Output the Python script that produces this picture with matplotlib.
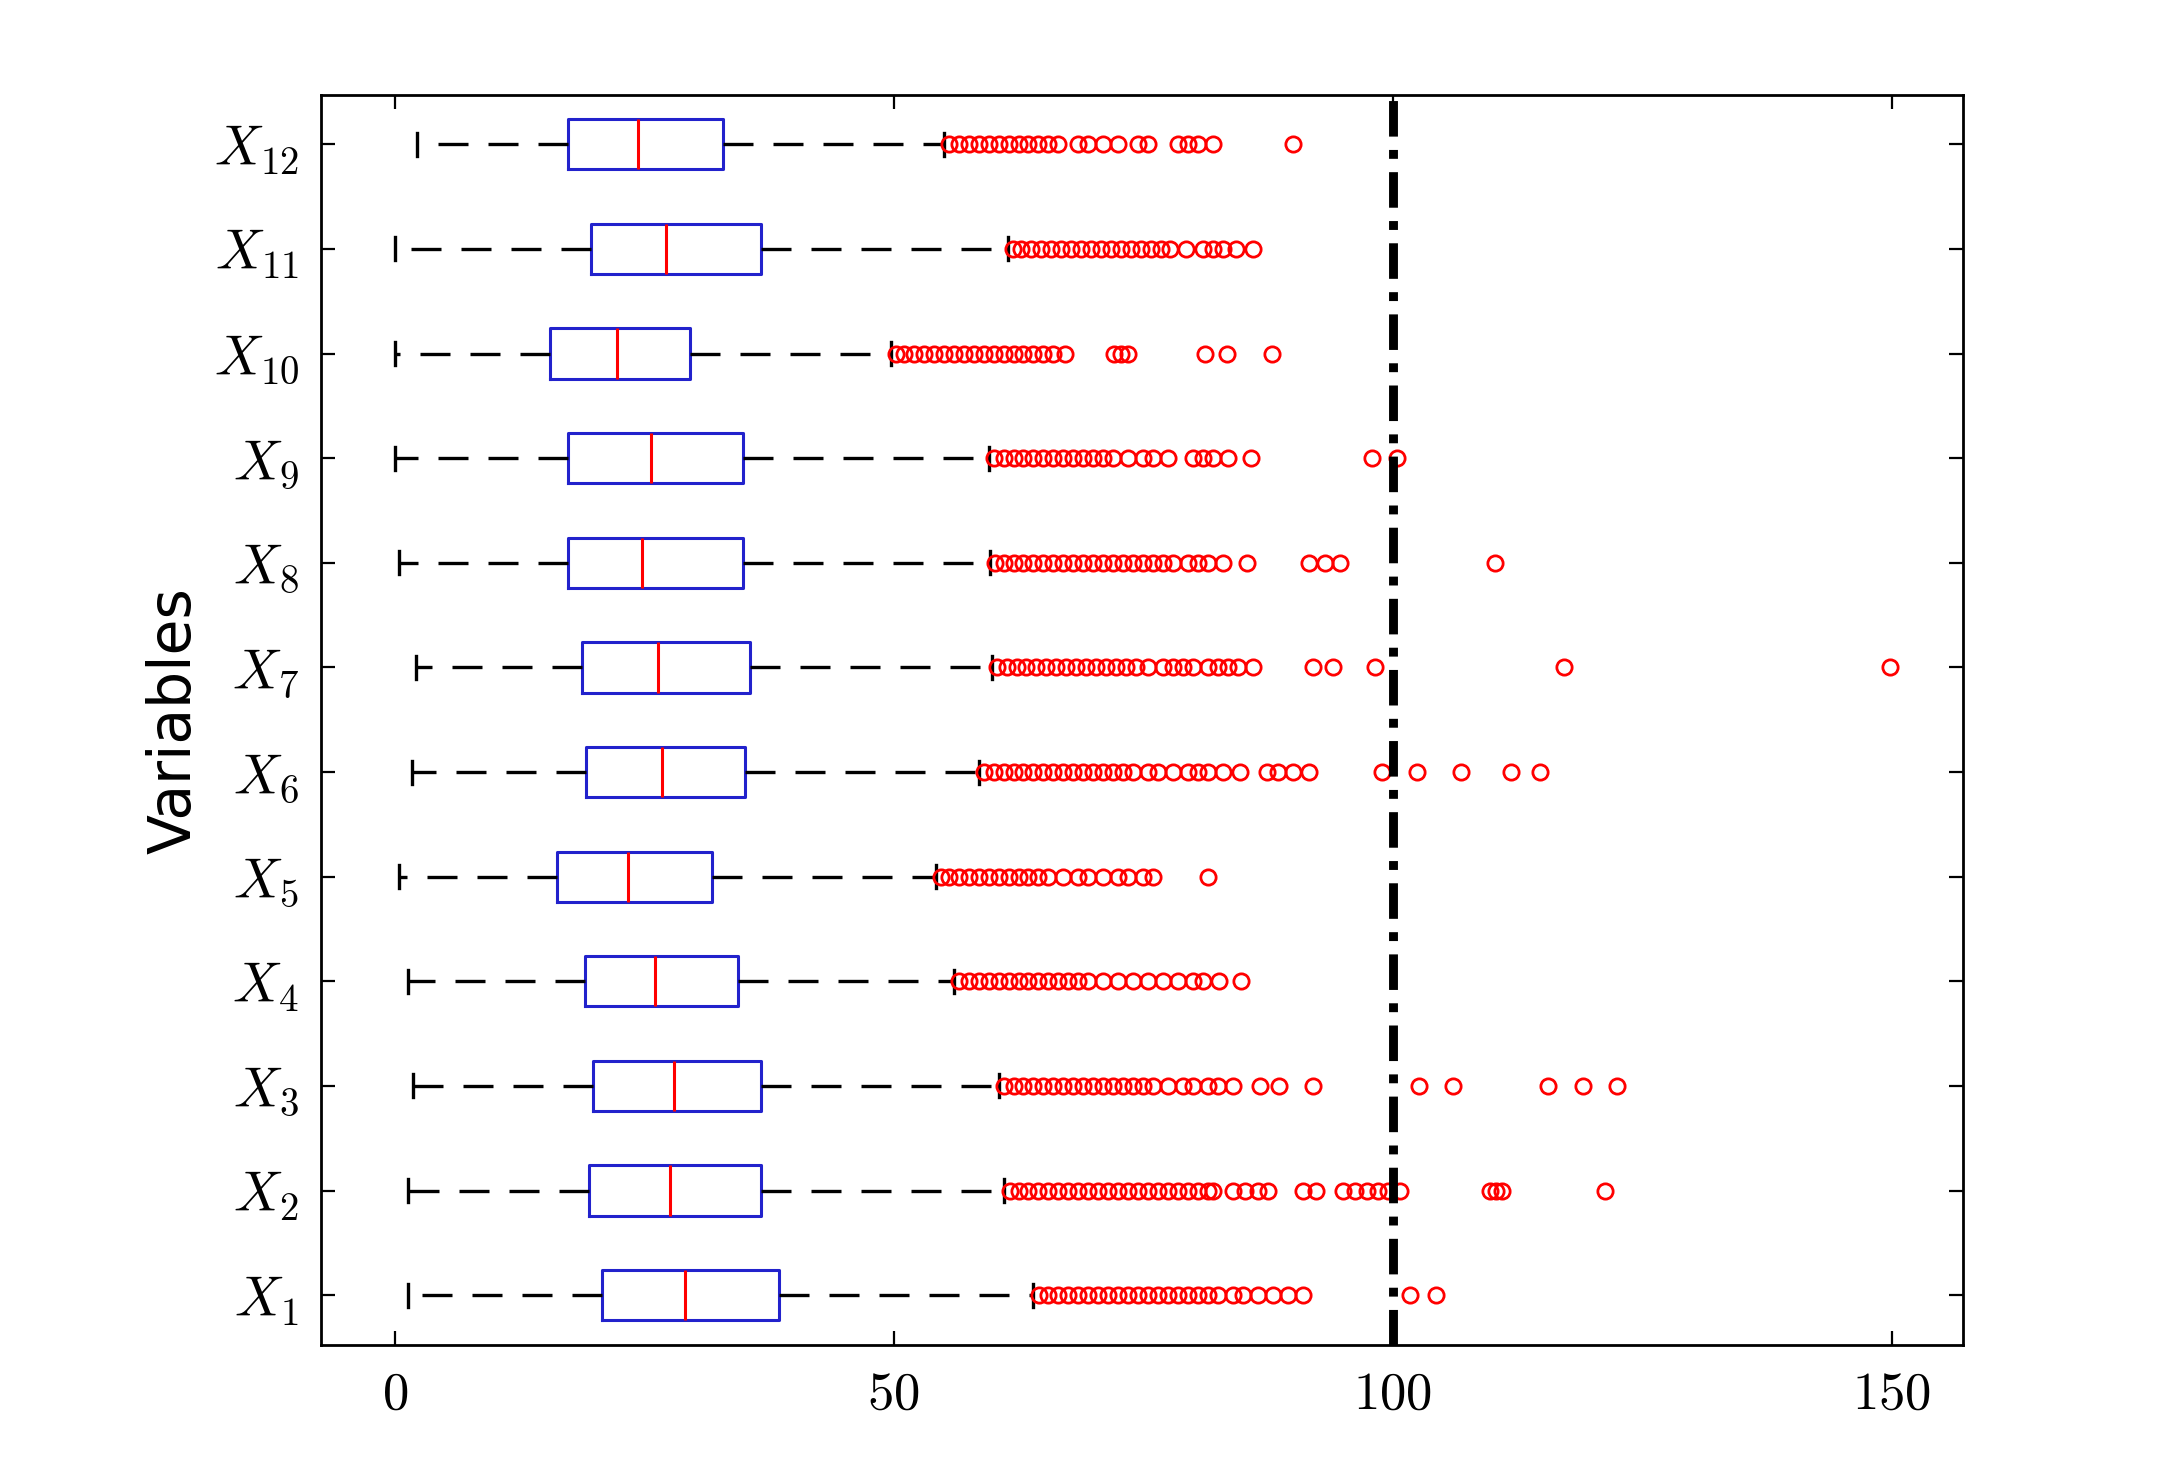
import matplotlib.pyplot as plt

labels = [f'$X_{{{i}}}$' for i in range(1, 13)]
whislo = [1.3, 1.3, 1.8, 1.3, 0.4, 1.7, 2.1, 0.4, 0.0, 0.0, 0.0, 2.2]
q1 = [20.8, 19.5, 19.9, 19.1, 16.2, 19.2, 18.8, 17.3, 17.3, 15.5, 19.7, 17.3]
med = [29.1, 27.6, 28.0, 26.1, 23.4, 26.8, 26.4, 24.8, 25.7, 22.3, 27.2, 24.4]
q3 = [38.5, 36.7, 36.7, 34.4, 31.8, 35.1, 35.6, 34.9, 34.9, 29.6, 36.7, 32.9]
whishi = [64.0, 61.0, 60.5, 56.0, 54.2, 58.5, 59.8, 59.6, 59.5, 49.7, 61.4, 55.0]

fliers = [
    [64.6, 65.5, 66.5, 67.5, 68.5, 69.5, 70.5, 71.5, 72.5, 73.5, 74.5, 75.5, 76.5, 77.5,
     78.5, 79.5, 80.5, 81.5, 82.5, 84, 85, 86.5, 88, 89.5, 91, 101.7, 104.3],
    [61.6, 62.5, 63.5, 64.5, 65.5, 66.5, 67.5, 68.5, 69.5, 70.5, 71.5, 72.5, 73.5, 74.5,
     75.5, 76.5, 77.5, 78.5, 79.5, 80.5, 81.5, 82, 84, 85.2, 86.5, 87.5, 91, 92.3,
     95, 96.2, 97.4, 98.5, 99.5, 100.7, 109.8, 110.4, 111, 121.3],
    [61, 62, 63, 64, 65, 66, 67, 68, 69, 70, 71, 72, 73, 74, 75, 76, 77.5, 79, 80,
     81.5, 82.5, 84, 86.7, 88.6, 92, 102.6, 106, 115.6, 119.1, 122.5],
    [56.5, 57.5, 58.5, 59.5, 60.5, 61.5, 62.5, 63.5, 64.5, 65.5, 66.5, 67.5, 68.5,
     69.5, 71, 72.5, 74, 75.5, 77, 78.5, 80, 81, 82.6, 84.8],
    [54.7, 55.5, 56.5, 57.5, 58.5, 59.5, 60.5, 61.5, 62.5, 63.5, 64.5, 65.5, 67,
     68.5, 69.5, 71, 72.5, 73.5, 75, 76, 81.5],
    [59, 60, 61, 62, 63, 64, 65, 66, 67, 68, 69, 70, 71, 72, 73, 74, 75.5, 76.5,
     78, 79.5, 80.5, 81.5, 83, 84.7, 87.4, 88.5, 90, 91.6, 98.9, 102.4, 106.8,
     111.9, 114.8],
    [60.3, 61.3, 62.3, 63.3, 64.3, 65.3, 66.3, 67.3, 68.3, 69.3, 70.3, 71.3, 72.3,
     73.3, 74.3, 75.5, 77, 78, 79, 80, 81.5, 82.5, 83.5, 84.5, 86, 92, 94, 98.2,
     117.2, 149.8],
    [60.1, 61, 62, 63, 64, 65, 66, 67, 68, 69, 70, 71, 72, 73, 74, 75, 76, 77, 78,
     79.5, 80.5, 81.5, 83, 85.4, 91.6, 93.2, 94.7, 110.3],
    [60, 61, 62, 63, 64, 65, 66, 67, 68, 69, 70, 71, 72, 73.5, 75, 76, 77.5, 80,
     81, 82, 83.5, 85.8, 97.9, 100.4],
    [50.2, 51, 52, 53, 54, 55, 56, 57, 58, 59, 60, 61, 62, 63, 64, 65, 66, 67.2,
     72.1, 72.8, 73.5, 81.2, 83.4, 87.9],
    [61.9, 62.8, 63.8, 64.8, 65.8, 66.8, 67.8, 68.8, 69.8, 70.8, 71.8, 72.8, 73.8,
     74.8, 75.8, 76.8, 77.7, 79.3, 81, 82, 83, 84.3, 86],
    [55.5, 56.5, 57.5, 58.5, 59.5, 60.5, 61.5, 62.5, 63.5, 64.5, 65.5, 66.5, 68.5,
     69.5, 71, 72.5, 74.5, 75.5, 78.5, 79.5, 80.5, 82, 90],
]

threshold = 100

stats = []
for i in range(12):
    stats.append(dict(label=labels[i], whislo=whislo[i], q1=q1[i], med=med[i],
                      q3=q3[i], whishi=whishi[i], fliers=fliers[i]))

plt.rcParams['mathtext.fontset'] = 'cm'
fig = plt.figure(figsize=(10.92, 7.32), dpi=200)
ax = fig.add_axes([0.147, 0.081, 0.752, 0.854])

ax.bxp(stats, vert=False, widths=0.48, showcaps=True,
       boxprops=dict(color='#2222cc', linewidth=1.1),
       medianprops=dict(color='red', linewidth=1.1),
       whiskerprops=dict(color='black', linestyle=(0, (9, 6)), linewidth=1.2),
       capprops=dict(color='black', linewidth=1.2),
       capwidths=0.22,
       flierprops=dict(marker='o', markerfacecolor='none', markeredgecolor='red',
                       markersize=5.5, markeredgewidth=1.0))
ax.axvline(threshold, color='black', linestyle=(0, (4, 1.5, 1, 1.5)), linewidth=3.2)

ax.set_xlim(-7.4, 157.2)
ax.set_ylim(0.52, 12.47)
ax.set_xticks([0, 50, 100, 150])
ax.set_xticklabels([f'${v}$' for v in [0, 50, 100, 150]], fontsize=19)
ax.set_yticklabels(labels, fontsize=20)
ax.tick_params(direction='in', length=5, top=True, right=True, pad=8)
ax.set_ylabel('Variables', fontsize=21, labelpad=4)
for s in ax.spines.values():
    s.set_linewidth(1.0)

fig.savefig('out.png', dpi=200)
